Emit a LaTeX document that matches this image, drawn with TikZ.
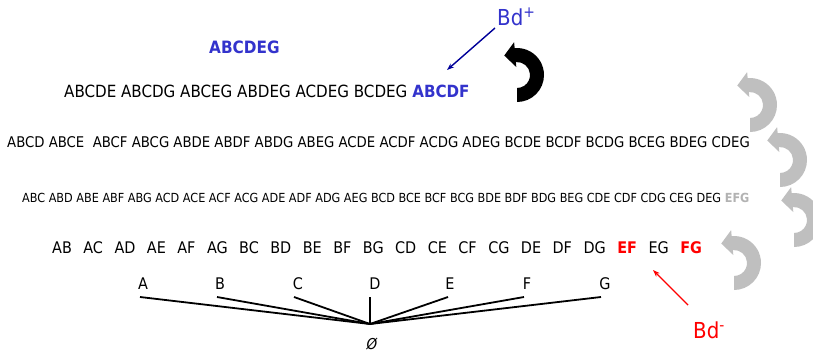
\documentclass[tikz,border=0pt]{standalone}
\usepackage{fontspec}
\setmainfont{DejaVu Sans Condensed}
\usetikzlibrary{arrows.meta}
\definecolor{myblue}{RGB}{51,51,204}
\definecolor{navyc}{RGB}{0,0,153}
\definecolor{lgray}{RGB}{191,191,191}
\definecolor{egray}{RGB}{178,178,178}
\newcommand\curlarr[3]{%
 \begin{scope}[shift={(#1,#2)},yscale=-1]
 \fill[#3] (0,-27) arc[start angle=-90,end angle=95,radius=27] -- (-2.88,32.87) -- (-12.75,19.46) -- (-0.70,7.97) -- (-1.13,12.95) arc[start angle=95,end angle=-90,radius=13] -- cycle;
 \end{scope}}
\begin{document}
\begin{tikzpicture}[x=1pt,y=-1pt,
  txt/.style={inner sep=0pt, anchor=base west},
  single/.style={inner sep=0pt, anchor=base, font=\fontsize{16}{19}\selectfont},
  spoke/.style={line width=1.8pt},
  conn/.style={line width=1.4pt}]
\useasboundingbox (0,0) rectangle (813,351);
% curved arrows
\curlarr{750}{105}{lgray}
\curlarr{780}{160}{lgray}
\curlarr{794}{220}{lgray}
\curlarr{734}{263}{lgray}
\curlarr{517}{75}{black}
% rows
\node[txt, font=\fontsize{17}{20}\selectfont\bfseries, text=myblue] (top) at (209,53) {ABCDEG};
\node[txt, font=\fontsize{16.8}{20}\selectfont] (r5) at (64,97) {ABCDE ABCDG ABCEG ABDEG ACDEG BCDEG \textcolor{myblue}{\bfseries ABCDF}};
\node[txt, font=\fontsize{14.75}{17}\selectfont] (r4) at (7,147) {ABCD ABCE\ \ ABCF ABCG ABDE ABDF ABDG ABEG ACDE ACDF ACDG ADEG BCDE BCDF BCDG BCEG BDEG CDEG};
\node[txt, font=\fontsize{12.5}{15}\selectfont] (r3) at (22,202) {ABC ABD ABE ABF ABG ACD ACE ACF ACG ADE ADF ADG AEG BCD BCE BCF BCG BDE BDF BDG BEG CDE CDF CDG CEG DEG \textcolor{egray}{\bfseries EFG}};
\node[txt, font=\fontsize{16}{19}\selectfont] (r2) at (52,253) {\spaceskip=11.5pt\relax AB AC AD AE AF AG BC BD BE BF BG CD CE CF CG DE DF DG \textcolor{red}{\bfseries EF} EG \textcolor{red}{\bfseries FG}};
% singletons
\node[single] (A) at (143,289) {A};
\node[single] (B) at (220,289) {B};
\node[single] (C) at (298,289) {C};
\node[single] (D) at (375,289) {D};
\node[single] (E) at (450,289) {E};
\node[single] (F) at (527,289) {F};
\node[single] (G) at (605,289) {G};
\coordinate (tA) at (140,297);
\coordinate (tB) at (217,297);
\coordinate (tC) at (294,297);
\coordinate (tD) at (370,297);
\coordinate (tE) at (448,297);
\coordinate (tF) at (524,297);
\coordinate (tG) at (601,297);
\coordinate (hub) at (370,324);
\foreach \t in {tA,tB,tC,tD,tE,tF,tG} \draw[spoke] (\t) -- (hub);
\node[font=\fontsize{15}{17}\selectfont\itshape, inner sep=0pt, anchor=base] (empty) at (372,349) {Ø};
% Bd+ and Bd-
\node[txt, font=\fontsize{22}{24}\selectfont, text=myblue] (bdp) at (497,25) {Bd\textsuperscript{+}};
\coordinate (bdpS) at (495,28);
\coordinate (bdpE) at (447,70);
\draw[conn, navyc, -{Stealth[length=7pt,width=5pt]}] (bdpS) -- (bdpE);
\node[txt, font=\fontsize{22}{24}\selectfont, text=red] (bdm) at (693,338) {Bd\textsuperscript{-}};
\coordinate (bdmS) at (688,305);
\coordinate (bdmE) at (653,270);
\draw[conn, red, -{Stealth[length=7pt,width=5pt]}] (bdmS) -- (bdmE);
\end{tikzpicture}
\end{document}
